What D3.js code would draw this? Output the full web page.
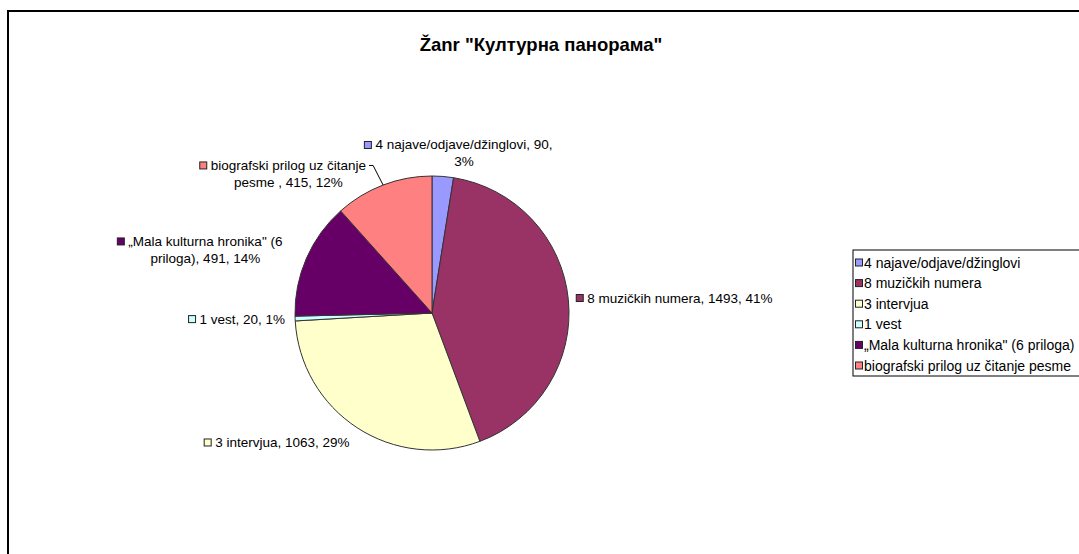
<!DOCTYPE html>
<html>
<head>
<meta charset="utf-8">
<script src="https://cdn.jsdelivr.net/npm/d3@7"></script>
<style>
    body { margin: 0; background: #fff; }
    text { font-family: "Liberation Sans", Arial, sans-serif; }
</style>
</head>
<body>
<svg id="chart" width="1079" height="554"></svg>
<script>
var titleText = 'Žanr "Културна панорама"';
var categories = ["4 najave/odjave/džinglovi", "8 muzičkih numera", "3 intervjua", "1 vest",
    "„Mala kulturna hronika\" (6 priloga)", "biografski prilog uz čitanje pesme "];
var values = [90, 1493, 1063, 20, 491, 415];
var percents = [3, 41, 29, 1, 14, 12];
var colors = ["#9999FF", "#993366", "#FFFFCC", "#CCFFFF", "#660066", "#FF8080"];

// layout
var cx = 432, cy = 313, radius = 137, labelPad = 14;
var labelFont = "13.5px", legendFont = "14px";
var labelWrap = [190, 300, 300, 300, 170, 175];
var labelShift = [[20, 8], [-6, 0], [0, 3], [4, 0], [-11, -3], [-12, 2]];
var lineH = 17;

var data = categories.map(function(c, i) {
    return { name: c, value: values[i], pct: percents[i], color: colors[i] };
});

var svg = d3.select("#chart");

// chart frame
svg.append("rect")
    .attr("x", 8).attr("y", 11)
    .attr("width", 1200).attr("height", 700)
    .attr("fill", "#fff")
    .attr("stroke", "#000")
    .attr("stroke-width", 2);

svg.append("text")
    .attr("x", 541).attr("y", 51)
    .attr("text-anchor", "middle")
    .style("font-size", "18.5px")
    .style("font-weight", "bold")
    .text(titleText);

var pie = d3.pie().sort(null).value(function(d) { return d.value; });
var arc = d3.arc().innerRadius(0).outerRadius(radius);
var arcs = pie(data);

var g = svg.append("g").attr("transform", "translate(" + cx + "," + cy + ")");

g.selectAll("path")
    .data(arcs)
    .enter()
    .append("path")
    .attr("d", arc)
    .attr("fill", function(d) { return d.data.color; })
    .attr("stroke", "#333")
    .attr("stroke-width", 1);

// text measuring helper
var measurer = svg.append("text").style("font-size", labelFont).attr("visibility", "hidden");
function textWidth(s) {
    measurer.text(s);
    return measurer.node().getComputedTextLength();
}

function wrap(str, maxW) {
    var words = str.split(" ");
    var lines = [], cur = "";
    words.forEach(function(w) {
        var test = cur === "" ? w : cur + " " + w;
        if (cur !== "" && textWidth(test) > maxW) {
            lines.push(cur);
            cur = w;
        } else {
            cur = test;
        }
    });
    if (cur !== "") lines.push(cur);
    return lines;
}

var labels = svg.append("g");

arcs.forEach(function(d, i) {
    var mid = (d.startAngle + d.endAngle) / 2;
    var R = radius + labelPad;
    var px = cx + R * Math.sin(mid) + labelShift[i][0];
    var py = cy - R * Math.cos(mid) + labelShift[i][1];

    var str = d.data.name + ", " + d.data.value + ", " + d.data.pct + "%";
    var lines = wrap(str, labelWrap[i]);
    var widths = lines.map(textWidth);
    var textW = d3.max(widths);
    var blockH = lines.length * lineH;

    var s = Math.sin(mid);
    var textLeft, top;
    if (Math.abs(s) < 0.3) {
        textLeft = px - textW / 2;
        top = py - blockH;
    } else if (s > 0) {
        textLeft = px + 11;
        top = py - blockH / 2;
    } else {
        textLeft = px - textW;
        top = py - blockH / 2;
    }
    var centerX = textLeft + textW / 2;

    lines.forEach(function(line, k) {
        labels.append("text")
            .attr("x", centerX)
            .attr("y", top + k * lineH + lineH / 2 + 4.5)
            .attr("text-anchor", "middle")
            .style("font-size", labelFont)
            .attr("fill", "#000")
            .text(line);
    });

    labels.append("rect")
        .attr("x", centerX - widths[0] / 2 - 11)
        .attr("y", top + lineH / 2 - 3.5)
        .attr("width", 7).attr("height", 7)
        .attr("fill", d.data.color)
        .attr("stroke", "#222")
        .attr("stroke-width", 1);

    // leader line for the label that was dragged away from its slice
    if (i === 5) {
        var ex = cx + radius * Math.sin(mid), ey = cy - radius * Math.cos(mid);
        var sx = textLeft + textW + 3, sy = top + lineH / 2 + 0;
        labels.append("path")
            .attr("d", "M" + sx + "," + sy + "L" + (sx + 4) + "," + sy + "L" + ex + "," + ey)
            .attr("fill", "none")
            .attr("stroke", "#000")
            .attr("stroke-width", 1);
    }
});

// legend
var legX = 853, legY = 250, legRow = 20.6;
var legend = svg.append("g");
legend.append("rect")
    .attr("x", legX).attr("y", legY)
    .attr("width", 240).attr("height", 126)
    .attr("fill", "#fff")
    .attr("stroke", "#000")
    .attr("stroke-width", 1);

var items = legend.selectAll("g.item")
    .data(data)
    .enter()
    .append("g")
    .attr("class", "item")
    .attr("transform", function(d, i) { return "translate(" + legX + "," + (legY + 12.5 + i * legRow) + ")"; });

items.append("rect")
    .attr("x", 2.5).attr("y", -3.5)
    .attr("width", 7).attr("height", 7)
    .attr("fill", function(d) { return d.color; })
    .attr("stroke", "#222")
    .attr("stroke-width", 1);

items.append("text")
    .attr("x", 11).attr("y", 5)
    .style("font-size", legendFont)
    .text(function(d) { return d.name.trim(); });
</script>
</body>
</html>
